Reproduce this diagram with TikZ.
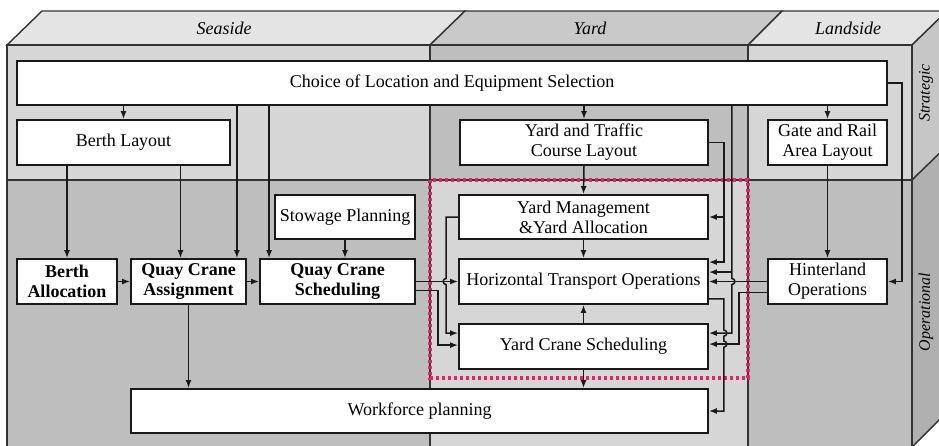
\documentclass[tikz,border=0pt]{standalone}
\usepackage{fontspec}
\setmainfont{Liberation Serif}
\usetikzlibrary{arrows.meta,calc}
\definecolor{toplight}{HTML}{E4E4E4}
\definecolor{topdark}{HTML}{C9C9C9}
\definecolor{facelight}{HTML}{D6D6D6}
\definecolor{facedark}{HTML}{BEBEBE}
\definecolor{sidestrat}{HTML}{C6C6C6}
\definecolor{sideop}{HTML}{B0B0B0}
\definecolor{focusred}{HTML}{E8206A}

\begin{document}
\begin{tikzpicture}[x=1pt,y=-1pt,>={Latex[length=8pt,width=6pt]},
  box/.style={draw=black!90,line width=1.8pt,fill=white,align=center,inner sep=1pt,
    font=\fontsize{18}{20}\selectfont},
  boldbox/.style={box,font=\fontsize{18}{20}\selectfont\bfseries},
  conn/.style={->,line width=1.5pt,draw=black!90},
  edge/.style={draw=black!80,line width=1.4pt},
  focus/.style={draw=focusred,line width=3.2pt,dash pattern=on 3pt off 3pt},
  side/.style={font=\itshape\fontsize{18}{20}\selectfont},
  level/.style={rotate=90,font=\itshape\fontsize{16}{18}\selectfont}]
  \useasboundingbox (0,0) rectangle (939,445);
  % the block, seen from the front
  \begin{scope}
    \clip (0,0) rectangle (939,445);
    \fill[white] (0,0) rectangle (939,445);
    \filldraw[edge,fill=toplight] (7,45) -- (42,11) -- (465,11) -- (430,45) -- cycle;
    \filldraw[edge,fill=topdark] (430,45) -- (465,11) -- (782,11) -- (748,45) -- cycle;
    \filldraw[edge,fill=toplight] (748,45) -- (782,11) -- (947,11) -- (912,45) -- cycle;
    \filldraw[edge,fill=sidestrat] (912,45) -- (947,11) -- (947,146) -- (912,180) -- cycle;
    \filldraw[edge,fill=sideop] (912,180) -- (947,146) -- (947,412) -- (912,447) -- cycle;
    \filldraw[edge,fill=facelight] (7,45) rectangle (430,180);
    \filldraw[edge,fill=facedark] (7,180) rectangle (430,447);
    \filldraw[edge,fill=facedark] (430,45) rectangle (748,180);
    \filldraw[edge,fill=facelight] (430,180) rectangle (748,447);
    \filldraw[edge,fill=facelight] (748,45) rectangle (912,180);
    \filldraw[edge,fill=facedark] (748,180) rectangle (912,447);
  \end{scope}
  \node[side] (sea) at (224,28) {Seaside};
  \node[side] (yard) at (590,28) {Yard};
  \node[side] (land) at (848,28) {Landside};
  \node[level] (strat) at (926,93) {Strategic};
  \node[level] (oper) at (926,312) {Operational};
  % yard focus
  \draw[focus] (430,180) rectangle (748,378);

  % strategic level
  \node[box,minimum width=870pt,minimum height=44pt] (choice) at (452,83)
    {Choice of Location and Equipment Selection};
  \node[box,minimum width=213pt,minimum height=45pt] (blay) at (123.5,142.5) {Berth Layout};
  \node[box,minimum width=248pt,minimum height=45pt] (ytcl) at (584,142.5)
    {Yard and Traffic\\Course Layout};
  \node[box,minimum width=119pt,minimum height=45pt] (gate) at (827.5,142.5)
    {Gate and Rail\\Area Layout};
  % operational level
  \node[box,minimum width=140pt,minimum height=44pt] (stow) at (345,217) {Stowage Planning};
  \node[boldbox,minimum width=100pt,minimum height=45pt] (balloc) at (67,281.5)
    {Berth\\Allocation};
  \node[boldbox,minimum width=115pt,minimum height=45pt] (qca) at (188.5,281.5)
    {Quay Crane\\Assignment};
  \node[boldbox,minimum width=155pt,minimum height=45pt] (qcs) at (337.5,281.5)
    {Quay Crane\\Scheduling};
  \node[box,minimum width=249pt,minimum height=44pt] (ym) at (583.5,217)
    {Yard Management\\\&Yard Allocation};
  \node[box,minimum width=249pt,minimum height=45pt] (hto) at (583.5,281.5)
    {Horizontal Transport Operations};
  \node[box,minimum width=249pt,minimum height=45pt] (ycs) at (583.5,346.5)
    {Yard Crane Scheduling};
  \node[box,minimum width=119pt,minimum height=45pt] (hint) at (827.5,281.5)
    {Hinterland\\Operations};
  \node[box,minimum width=577pt,minimum height=44pt] (wf) at (419.5,411) {Workforce planning};

  % seaside links
  \coordinate (c2) at ([xshift=-10pt]qca.north east);
  \coordinate (c3) at ([xshift=10pt]qcs.north west);
  \coordinate (c5) at ([xshift=-8pt]qca.north);
  \draw[conn] (blay.north |- choice.south) -- (blay.north);
  \draw[conn] (c2 |- choice.south) -- (c2);
  \draw[conn] (c3 |- choice.south) -- (c3);
  \draw[conn] (balloc.north |- blay.south) -- (balloc.north);
  \draw[conn] (c5 |- blay.south) -- (c5);
  \draw[conn] (stow.south) -- (stow.south |- qcs.north);
  \draw[conn] (balloc.east) -- (qca.west);
  \draw[conn] (qca.east) -- (qcs.west);
  \draw[conn] (qca.south) -- (qca.south |- wf.north);
  \draw[conn] (qcs.east) -- (hto.west);
  \draw[conn] ([yshift=-9pt]qcs.east) -| ([xshift=-20pt,yshift=-22pt]ycs.north west)
    -- ([yshift=-22pt]ycs.north west);
  \draw[conn] (ym.west) -- ([xshift=-12pt]ym.west) -- ([xshift=-12pt,yshift=3pt]hto.west)
    arc[start angle=90,end angle=270,radius=3pt]
    -- ([xshift=-12pt,yshift=-10pt]ycs.north west) -- ([yshift=-10pt]ycs.north west);

  % yard links
  \draw[conn] (ytcl.north |- choice.south) -- (ytcl.north);
  \draw[conn] (ytcl.south) -- (ym.north);
  \draw[conn] (ym.south) -- (hto.north);
  \draw[conn] (ycs.north) -- (hto.south);
  \draw[conn] (ycs.south) -- (ycs.south |- wf.north);
  \draw[conn] (ytcl.east) -- ([xshift=15pt]ytcl.east) -- ([xshift=15pt,yshift=-4pt]hto.north east)
    -- ([yshift=-4pt]hto.north east);
  \draw[conn] ([xshift=15pt]ym.east) -- (ym.east);
  \draw[conn] ([xshift=23pt]hto.east |- choice.south) -- ([xshift=23pt,yshift=3pt]hto.east)
    arc[start angle=90,end angle=-90,radius=3pt]
    -- ([xshift=23pt,yshift=-10pt]ycs.north east) -- ([yshift=-10pt]ycs.north east);
  \draw[conn] ([xshift=23pt,yshift=-14pt]hto.north east) -- ([yshift=-14pt]hto.north east);
  \draw[conn] ([yshift=6pt]hto.south east) -- ([xshift=15pt,yshift=6pt]hto.south east)
    -- ([xshift=15pt,yshift=-7pt]ycs.north east) arc[start angle=90,end angle=-90,radius=3pt]
    -- ([xshift=15pt,yshift=-18pt]ycs.north east) arc[start angle=90,end angle=-90,radius=3pt]
    -- ([xshift=15pt]wf.east) -- (wf.east);

  % landside links
  \draw[conn] (gate.north |- choice.south) -- (gate.north);
  \draw[conn] (gate.south) -- (hint.north);
  \draw[conn] (choice.east) -| ([xshift=14pt]hint.east) -- (hint.east);
  \draw[conn] (hint.west) -- (hto.east);
  \draw[conn] ([yshift=-11pt]hint.west) -| ([xshift=30pt,yshift=-21pt]ycs.north east)
    -- ([yshift=-21pt]ycs.north east);
\end{tikzpicture}
\end{document}
